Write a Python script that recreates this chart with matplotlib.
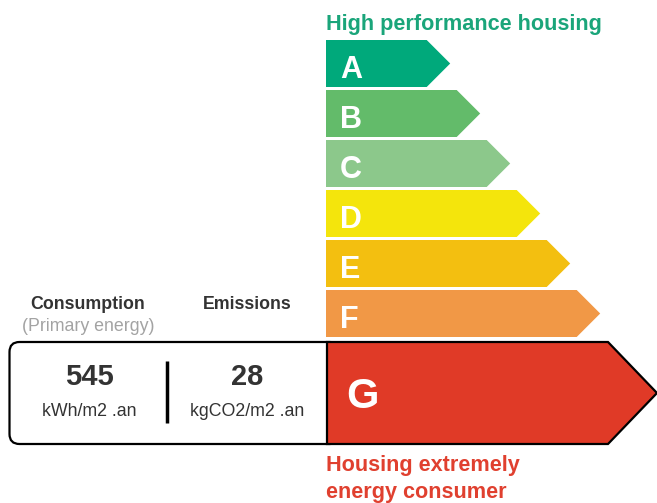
import numpy as np
import matplotlib.pyplot as plt
import matplotlib.patches as patches

plt.rcParams['font.family'] = ['Liberation Sans', 'DejaVu Sans']

# data
grades = ['A', 'B', 'C', 'D', 'E', 'F', 'G']
colors = ['#00a97b', '#63bb6a', '#8cc88b', '#f4e50c', '#f3bf10', '#f19846', '#e03a27']
current = 'G'
consumption = 545
emissions = 28
consumption_unit = 'kWh/m2 .an'
emissions_unit = 'kgCO2/m2 .an'
top_label = 'High performance housing'
bottom_label = 'Housing extremely\nenergy consumer'

W, H = 657, 503
fig = plt.figure(figsize=(W / 100, H / 100), dpi=100)
ax = fig.add_axes([0, 0, 1, 1])
ax.set_xlim(0, W)
ax.set_ylim(H, 0)
ax.axis('off')

x0 = 326
bar_h = 47
pitch = 50
y_top = 40
dark = '#333333'

for i, (g, c) in enumerate(zip(grades, colors)):
    if g == current:
        continue
    top = y_top + i * pitch
    right = 426.7 + i * 30
    pts = [(x0, top), (right, top), (right + bar_h / 2, top + bar_h / 2),
           (right, top + bar_h), (x0, top + bar_h)]
    ax.add_patch(patches.Polygon(pts, closed=True, facecolor=c, edgecolor='none'))
    ax.text(x0 + 14, top + bar_h / 2 + 14, g, color='white', fontsize=22,
            fontweight='bold', va='baseline', ha='left')

# value box
gi = grades.index(current)
gtop, gbot = 342, 444
ax.add_patch(patches.FancyBboxPatch((9.5, gtop), 330, gbot - gtop,
                                    boxstyle='round,pad=0,rounding_size=10',
                                    facecolor='white', edgecolor='black', lw=1.6))
gmid = (gtop + gbot) / 2
pts = [(x0 + 1, gtop), (608, gtop), (657, gmid), (608, gbot), (x0 + 1, gbot)]
ax.add_patch(patches.Polygon(pts, closed=True, facecolor=colors[gi],
                             edgecolor='black', lw=1.6))
ax.text(346, 408, current, color='white', fontsize=30, fontweight='bold',
        va='baseline', ha='left')

ax.plot([167, 167], [361, 423], color='black', lw=2.5, solid_capstyle='butt')

ax.text(89, 385, str(consumption), color=dark, fontsize=21, fontweight='bold',
        ha='center', va='baseline')
ax.text(89, 416, consumption_unit, color=dark, fontsize=12.8, ha='center', va='baseline')
ax.text(247, 385, str(emissions), color=dark, fontsize=21, fontweight='bold',
        ha='center', va='baseline')
ax.text(247.5, 416, emissions_unit, color=dark, fontsize=12.8, ha='center', va='baseline')

ax.text(88, 309, 'Consumption', color=dark, fontsize=12.8, fontweight='bold',
        ha='center', va='baseline')
ax.text(88, 331, '(Primary energy)', color='#a3a3a3', fontsize=12.8,
        ha='center', va='baseline')
ax.text(247, 309, 'Emissions', color=dark, fontsize=12.8, fontweight='bold',
        ha='center', va='baseline')

ax.text(x0, 30, top_label, color='#1aa57a', fontsize=15.6, fontweight='bold',
        ha='left', va='baseline')
lines = bottom_label.split('\n')
ax.text(x0, 471, lines[0], color='#e0402f', fontsize=15.6, fontweight='bold',
        ha='left', va='baseline')
ax.text(x0, 498, lines[1], color='#e0402f', fontsize=15.6, fontweight='bold',
        ha='left', va='baseline')

fig.savefig('out.png', dpi=100)
